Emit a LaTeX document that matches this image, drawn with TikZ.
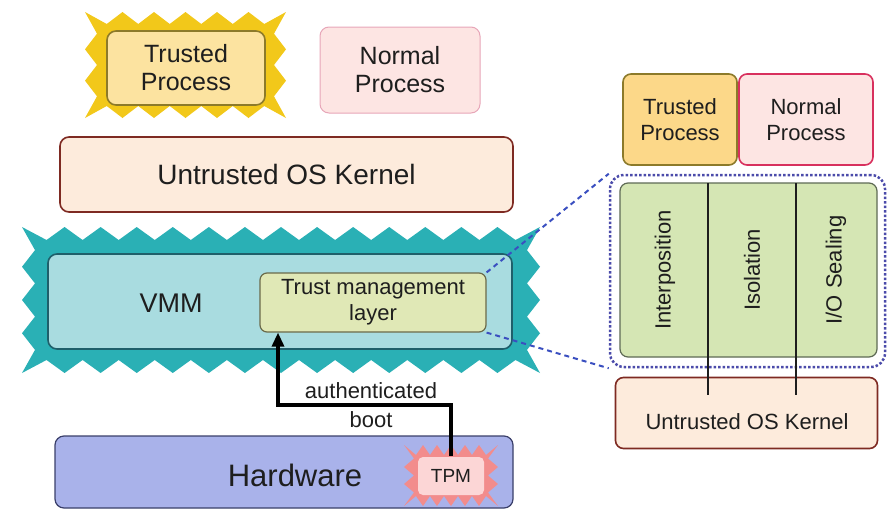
\documentclass[tikz,border=0pt]{standalone}
\usepackage{fontspec}
\setmainfont{Liberation Sans}
\usetikzlibrary{arrows.meta}
\definecolor{yelz}{HTML}{F2C81A}
\definecolor{trfill}{HTML}{FCE3A0}
\definecolor{trdraw}{HTML}{8C7A2A}
\definecolor{nofill}{HTML}{FDE5E3}
\definecolor{nodraw}{HTML}{E7A6B8}
\definecolor{kefill}{HTML}{FDEBDC}
\definecolor{kedraw}{HTML}{7E2A22}
\definecolor{tealz}{HTML}{2AB0B5}
\definecolor{vmfill}{HTML}{A9DCE0}
\definecolor{vmdraw}{HTML}{1F5F6A}
\definecolor{tmfill}{HTML}{E0E8B6}
\definecolor{tmdraw}{HTML}{6A6A4A}
\definecolor{hwfill}{HTML}{A9B2EA}
\definecolor{hwdraw}{HTML}{3A3F6A}
\definecolor{tpmz}{HTML}{F28C8C}
\definecolor{tpmfill}{HTML}{FCD6D6}
\definecolor{trRfill}{HTML}{FCD889}
\definecolor{noRdraw}{HTML}{D8305E}
\definecolor{grfill}{HTML}{D5E6B4}
\definecolor{grdraw}{HTML}{5E6A55}
\definecolor{dotc}{HTML}{4B4BAA}
\definecolor{dashc}{HTML}{3A4FC0}
\definecolor{txt}{HTML}{1E1E1E}
\tikzset{
  box/.style={rounded corners=9pt, line width=1.6pt, text=txt, align=center, inner sep=0pt},
  lbl/.style={text=txt, align=center, inner sep=0pt},
}
% star burst around a rectangle: x0 y0 x1 y1 amplitude nx ny colour
\newcommand\burstfill[8]{%
 \pgfmathsetmacro\bdx{(#3-#1)/#6}%
 \pgfmathsetmacro\bdy{(#4-#2)/#7}%
 \pgfmathtruncatemacro\bnm{#6-1}%
 \pgfmathtruncatemacro\bmm{#7-1}%
 \fill[#8] ({#1-#5},{#2-#5})
  \foreach \k in {1,...,\bnm} { -- ({#1+(\k-0.5)*\bdx},{#2+#5}) -- ({#1+\k*\bdx},{#2-#5}) }
  -- ({#3-0.5*\bdx},{#2+#5}) -- ({#3+#5},{#2-#5})
  \foreach \k in {1,...,\bmm} { -- ({#3-#5},{#2+(\k-0.5)*\bdy}) -- ({#3+#5},{#2+\k*\bdy}) }
  -- ({#3-#5},{#4-0.5*\bdy}) -- ({#3+#5},{#4+#5})
  \foreach \k in {1,...,\bnm} { -- ({#3-(\k-0.5)*\bdx},{#4-#5}) -- ({#3-\k*\bdx},{#4+#5}) }
  -- ({#1+0.5*\bdx},{#4-#5}) -- ({#1-#5},{#4+#5})
  \foreach \k in {1,...,\bmm} { -- ({#1+#5},{#4-(\k-0.5)*\bdy}) -- ({#1-#5},{#4-\k*\bdy}) }
  -- ({#1+#5},{#2+0.5*\bdy}) -- cycle;
}
\begin{document}
\begin{tikzpicture}[x=1pt,y=-1pt]
\useasboundingbox (0,0) rectangle (889,517);
% left trusted process with yellow burst
\burstfill{91}{18}{280}{112}{6}{6}{3}{yelz}
\node[box, fill=trfill, draw=trdraw, minimum width=158pt, minimum height=74pt, font=\fontsize{25}{28}\selectfont] (trustedL) at (186,68) {Trusted\\Process};
\node[box, fill=nofill, draw=nodraw, line width=1pt, minimum width=160pt, minimum height=86pt, font=\fontsize{25}{28}\selectfont] (normalL) at (400,70) {Normal\\Process};
\node[box, fill=kefill, draw=kedraw, minimum width=453pt, minimum height=75pt, font=\fontsize{28}{32}\selectfont] (kernelL) at (286.5,174.5) {Untrusted OS Kernel};
% VMM
\burstfill{28.5}{233.5}{533.5}{366.5}{6.5}{14}{4}{tealz}
\node[box, fill=vmfill, draw=vmdraw, minimum width=464pt, minimum height=95pt] (vmm) at (280,301.5) {};
\node[lbl, font=\fontsize{27}{30}\selectfont] (vmmlabel) at (171,303) {VMM};
\node[box, rounded corners=7pt, fill=tmfill, draw=tmdraw, line width=1.2pt, minimum width=226pt, minimum height=59pt, font=\fontsize{22}{26}\selectfont] (tml) at (373,302.5) {Trust management\\layer};
% Hardware
\node[box, fill=hwfill, draw=hwdraw, line width=1.2pt, minimum width=458pt, minimum height=72pt] (hw) at (284,472) {};
\node[lbl, font=\fontsize{31}{35}\selectfont] (hwlabel) at (295,475) {Hardware};
\burstfill{409}{450}{493}{501}{5}{6}{3}{tpmz}
\node[box, rounded corners=5pt, fill=tpmfill, draw=none, minimum width=66pt, minimum height=38pt, font=\fontsize{19}{21}\selectfont] (tpm) at (451,476) {TPM};
% authenticated boot arrow
\coordinate (bend1) at (tpm.north |- 0,405);
\coordinate (bend2) at (278,405);
\draw[line width=3.2pt, -{Triangle[length=14pt,width=12pt]}] (tpm.north) -- (bend1) -- (bend2) -- (bend2 |- tml.south);
\node[lbl, font=\fontsize{22}{25}\selectfont] (authl) at (371,391) {authenticated};
\node[lbl, font=\fontsize{22}{25}\selectfont] (bootl) at (371,420) {boot};
% right side
\node[box, rounded corners=8pt, fill=trRfill, draw=trdraw, minimum width=114pt, minimum height=91pt, font=\fontsize{22}{26}\selectfont] (trustedR) at (680,119.5) {Trusted\\Process};
\node[box, rounded corners=8pt, fill=nofill, draw=noRdraw, minimum width=134pt, minimum height=91pt, font=\fontsize{22}{26}\selectfont] (normalR) at (806,119.5) {Normal\\Process};
\node[box, rounded corners=8pt, fill=kefill, draw=kedraw, minimum width=262pt, minimum height=71pt] (kernelR) at (746.5,413) {};
\node[lbl, font=\fontsize{22}{26}\selectfont] (kernelRl) at (747,422) {Untrusted OS Kernel};
\node[box, rounded corners=14pt, draw=dotc, line width=2.5pt, dotted, minimum width=275pt, minimum height=192pt] (region) at (747.5,271) {};
\node[box, rounded corners=8pt, fill=grfill, draw=grdraw, line width=1.2pt, minimum width=257pt, minimum height=174pt] (green) at (748.5,270) {};
\coordinate (d1) at (708,183);
\coordinate (d2) at (796,183);
\coordinate (e1) at (708,395);
\coordinate (e2) at (796,395);
\draw[line width=1.2pt, txt] (d1) -- (e1);
\draw[line width=1.2pt, txt] (d2) -- (e2);
\node[lbl, rotate=90, font=\fontsize{22}{25}\selectfont] (interp) at (665,270) {Interposition};
\node[lbl, rotate=90, font=\fontsize{22}{25}\selectfont] (isol) at (752,270) {Isolation};
\node[lbl, rotate=90, font=\fontsize{22}{25}\selectfont] (ios) at (836,270) {I/O Sealing};
% dashed connectors
\draw[dashc, line width=2pt, dash pattern=on 5pt off 4pt] (tml.north east) -- (region.north west);
\draw[dashc, line width=2pt, dash pattern=on 5pt off 4pt] (tml.south east) -- (region.south west);
\end{tikzpicture}
\end{document}
